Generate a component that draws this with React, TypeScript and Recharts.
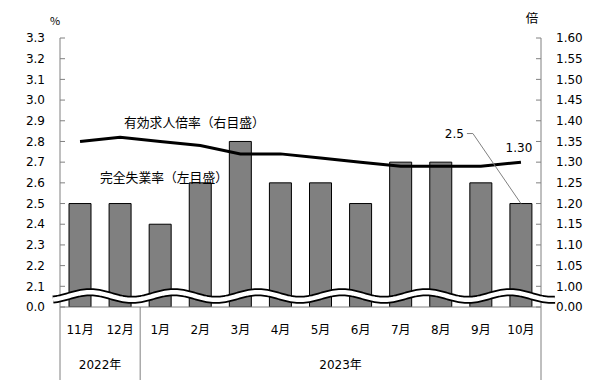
import { ComposedChart, Bar, Line, XAxis, YAxis, LabelList } from "recharts"

const months = ["11月", "12月", "1月", "2月", "3月", "4月", "5月", "6月", "7月", "8月", "9月", "10月"]
const unemployment = [2.5, 2.5, 2.4, 2.6, 2.8, 2.6, 2.6, 2.5, 2.7, 2.7, 2.6, 2.5]
const jobRatio = [1.35, 1.36, 1.35, 1.34, 1.32, 1.32, 1.31, 1.3, 1.29, 1.29, 1.29, 1.3]
const yearLabels = ["2022年", "2023年"]
const yearSpans = [2, 10]
const leftTicks = [0, 2.1, 2.2, 2.3, 2.4, 2.5, 2.6, 2.7, 2.8, 2.9, 3.0, 3.1, 3.2, 3.3]
const rightTicks = [0, 1.0, 1.05, 1.1, 1.15, 1.2, 1.25, 1.3, 1.35, 1.4, 1.45, 1.5, 1.55, 1.6]

// broken axes: everything between 0 and the first real tick is cut out
const LEFT_CUT = 2.0
const RIGHT_CUT = 0.95
const toLeft = (v: number) => (v === 0 ? 0 : v - LEFT_CUT)
const toRight = (v: number) => (v === 0 ? 0 : v - RIGHT_CUT)

const data = months.map((m, i) => ({
  month: m,
  rate: toLeft(unemployment[i]),
  ratio: toRight(jobRatio[i]),
}))

const W = 606
const H = 388
const PLOT = { left: 60, right: 541, top: 38, bottom: 307 }
const NUM_FONT = "'DejaVu Sans', 'Noto Sans CJK JP', sans-serif"
const JP_FONT = "'Noto Sans CJK JP', sans-serif"
const AXIS_GRAY = "#808080"

// drawn on top of the chart: break band, year row, captions
function Overlay() {
  const band = (PLOT.right - PLOT.left) / months.length
  const edges = [0]
  yearSpans.forEach((s) => edges.push(edges[edges.length - 1] + s))

  const pts: string[] = []
  for (let x = 53; x <= 556; x += 2) {
    const y = 296 - 3.8 * Math.cos((2 * Math.PI * (x - 90)) / 84)
    pts.push(`${x},${y.toFixed(2)}`)
  }
  const wave = "M" + pts.join(" L")

  return (
    <svg width={W} height={H} style={{ position: "absolute", left: 0, top: 0, pointerEvents: "none" }}>
      <path d={wave} fill="none" stroke="#000" strokeWidth={8} />
      <path d={wave} fill="none" stroke="#fff" strokeWidth={4.5} />
      {edges.map((e, i) => (
        <line key={i} x1={PLOT.left + e * band} x2={PLOT.left + e * band} y1={PLOT.bottom} y2={380} stroke={AXIS_GRAY} />
      ))}
      {yearLabels.map((t, i) => (
        <text key={t} x={PLOT.left + ((edges[i] + edges[i + 1]) / 2) * band} y={365} textAnchor="middle" dominantBaseline="central" fontSize={12} fontFamily={NUM_FONT} fill="#000">
          {t}
        </text>
      ))}
      <text x={55} y={20} textAnchor="middle" dominantBaseline="central" fontSize={11} fontFamily={JP_FONT} fill="#000">%</text>
      <text x={532} y={17} textAnchor="middle" dominantBaseline="central" fontSize={12.5} fontFamily={JP_FONT} fill="#000">倍</text>
      <text x={124} y={121} dominantBaseline="central" fontSize={12.8} fontFamily={JP_FONT} fill="#000">有効求人倍率（右目盛）</text>
      <text x={100} y={176} dominantBaseline="central" fontSize={12.8} fontFamily={JP_FONT} fill="#000">完全失業率（左目盛）</text>
    </svg>
  )
}

function LastBarLabel(props: any) {
  const { x, y, width, index } = props
  if (index !== months.length - 1) return null
  const cx = x + width / 2
  const ey = y - 70
  return (
    <g>
      <path d={`M${cx},${y} L${cx - 48},${ey} L${cx - 54},${ey}`} fill="none" stroke={AXIS_GRAY} strokeWidth={1} />
      <text x={cx - 57} y={ey} textAnchor="end" dominantBaseline="central" fontSize={12} fontFamily={NUM_FONT} fill="#000">
        {unemployment[index].toFixed(1)}
      </text>
    </g>
  )
}

function LastLineLabel(props: any) {
  const { x, y, index } = props
  if (index !== months.length - 1) return null
  return (
    <text x={x - 2} y={y - 14} textAnchor="middle" dominantBaseline="central" fontSize={12} fontFamily={NUM_FONT} fill="#000">
      {jobRatio[index].toFixed(2)}
    </text>
  )
}

export default function App() {
  return (
    <div style={{ position: "absolute", left: 0, top: 0, width: W, height: H, background: "#fff" }}>
      <ComposedChart width={W} height={H} data={data} margin={{ top: 38, right: 0, bottom: 51, left: 0 }}>
        <XAxis
          dataKey="month"
          height={30}
          tickLine={false}
          tickSize={0}
          tickMargin={18}
          axisLine={{ stroke: AXIS_GRAY }}
          tick={{ fontSize: 12, fontFamily: NUM_FONT, fill: "#000" }}
          interval={0}
        />
        <YAxis
          yAxisId="left"
          width={60}
          domain={[0, toLeft(3.3)]}
          ticks={leftTicks.map(toLeft)}
          tickFormatter={(_v: number, i: number) => leftTicks[i].toFixed(1)}
          tickSize={-5}
          tickMargin={20}
          stroke={AXIS_GRAY}
          tick={{ fontSize: 12, fontFamily: NUM_FONT, fill: "#000" }}
          interval={0}
          allowDataOverflow
        />
        <YAxis
          yAxisId="right"
          orientation="right"
          width={65}
          domain={[0, toRight(1.6)]}
          ticks={rightTicks.map(toRight)}
          tickFormatter={(_v: number, i: number) => rightTicks[i].toFixed(2)}
          tickSize={-5}
          tickMargin={20}
          stroke={AXIS_GRAY}
          tick={{ fontSize: 12, fontFamily: NUM_FONT, fill: "#000" }}
          interval={0}
          allowDataOverflow
        />
        <Bar yAxisId="left" dataKey="rate" fill="#808080" stroke="#000" strokeWidth={1} barSize={22} isAnimationActive={false}>
          <LabelList dataKey="rate" content={<LastBarLabel />} />
        </Bar>
        <Line yAxisId="right" type="linear" dataKey="ratio" stroke="#000" strokeWidth={3} dot={false} activeDot={false} isAnimationActive={false}>
          <LabelList dataKey="ratio" content={<LastLineLabel />} />
        </Line>
      </ComposedChart>
      <Overlay />
    </div>
  )
}
